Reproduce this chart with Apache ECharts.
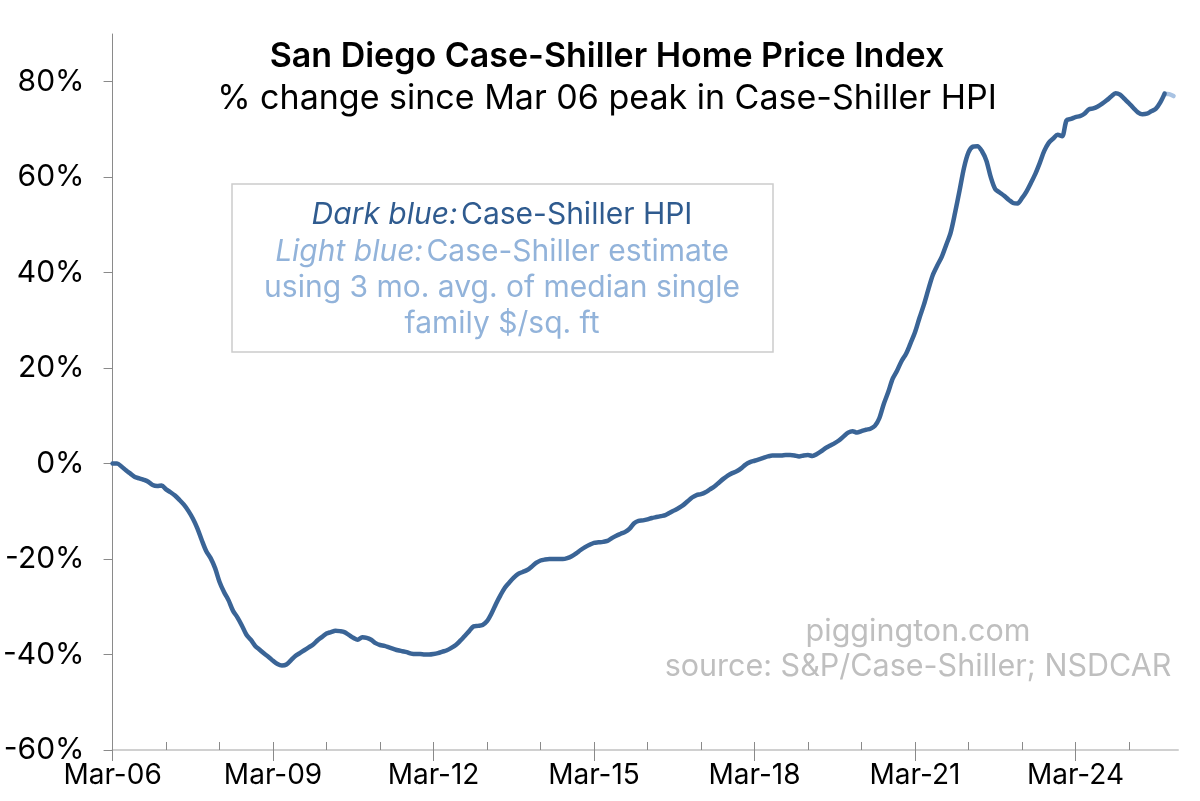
<!DOCTYPE html>
<html>
<head>
<meta charset="utf-8">
<script src="https://cdn.jsdelivr.net/npm/echarts@6/dist/echarts.min.js"></script>
<style>
  html, body { margin: 0; padding: 0; background: #fff; }
  #chart { width: 1200px; height: 801px; }
</style>
</head>
<body>
<div id="chart"></div>
<script>
// ---- data ----
const startYear = 2006;         // first month: Mar-06
const startMonth = 2;           // 0-based: March
const monthCount = 240;         // Mar-06 .. Feb-26

// Case-Shiller HPI, % change since Mar-06 peak, monthly from Mar-06
const hpiValues = [
  0.0, 0.0, -0.6, -1.4, -2.1, -2.8, -3.1, -3.4, -3.8, -4.5, -4.7, -4.6,
  -5.4, -6.0, -6.7, -7.6, -8.6, -9.9, -11.5, -13.5, -16.0, -18.3, -19.8, -21.9,
  -24.8, -26.9, -28.6, -30.8, -32.2, -33.9, -35.8, -36.9, -38.2, -39.0, -39.8, -40.5,
  -41.3, -42.0, -42.3, -42.1, -41.2, -40.3, -39.7, -39.1, -38.5, -37.9, -37.0, -36.3,
  -35.6, -35.3, -35.0, -35.1, -35.3, -35.9, -36.5, -36.9, -36.4, -36.5, -36.9, -37.6,
  -38.0, -38.2, -38.5, -38.8, -39.1, -39.3, -39.5, -39.8, -39.9, -39.9, -40.0, -40.0,
  -39.9, -39.7, -39.4, -39.1, -38.6, -38.0, -37.1, -36.1, -35.1, -34.1, -34.0, -33.8,
  -33.0, -31.4, -29.4, -27.6, -26.0, -24.9, -23.9, -23.1, -22.7, -22.3, -21.6, -20.8,
  -20.3, -20.1, -20.0, -20.0, -20.0, -20.0, -19.8, -19.4, -18.8, -18.1, -17.5, -17.0,
  -16.6, -16.5, -16.4, -16.2, -15.6, -15.1, -14.7, -14.3, -13.6, -12.5, -12.0, -11.9,
  -11.7, -11.4, -11.2, -11.0, -10.8, -10.3, -9.8, -9.3, -8.7, -7.9, -7.1, -6.6,
  -6.4, -6.0, -5.4, -4.8, -4.0, -3.2, -2.5, -2.0, -1.6, -1.0, -0.2, 0.3,
  0.6, 0.9, 1.2, 1.5, 1.7, 1.7, 1.7, 1.8, 1.8, 1.7, 1.5, 1.7,
  1.8, 1.6, 2.0, 2.6, 3.3, 3.8, 4.3, 4.9, 5.7, 6.5, 6.8, 6.5,
  6.8, 7.1, 7.3, 7.9, 9.5, 12.5, 15.0, 17.8, 19.5, 21.5, 23.0, 25.2,
  27.5, 30.5, 33.3, 36.5, 39.5, 41.5, 43.3, 45.8, 48.4, 52.6, 57.2, 62.0,
  65.2, 66.4, 66.5, 65.5, 63.5, 60.0, 57.5, 56.8, 56.1, 55.3, 54.6, 54.5,
  55.6, 57.0, 58.8, 60.7, 63.0, 65.5, 67.2, 68.1, 68.9, 68.6, 71.9, 72.2,
  72.6, 72.8, 73.3, 74.2, 74.4, 74.8, 75.4, 76.1, 76.9, 77.6, 77.3, 76.4,
  75.5, 74.5, 73.6, 73.2, 73.3, 73.8, 74.3, 75.6, 77.5
];

// Estimate from 3 mo. avg. of median single family $/sq. ft (starts at last HPI month)
const estimateStartIndex = 236;
const estimateValues = [77.5, 77.4, 77.0];

// axis settings
const yTickValues = [-60, -40, -20, 0, 20, 40, 60, 80];
const majorTickEvery = 36;  // every 3 years (labels)
const minorTickEvery = 12;  // every year

// ---- build categories ----
const monthNames = ['Jan','Feb','Mar','Apr','May','Jun','Jul','Aug','Sep','Oct','Nov','Dec'];
const categories = [];
for (let i = 0; i < monthCount; i++) {
  const t = startMonth + i;
  const y = startYear + Math.floor(t / 12);
  categories.push(monthNames[t % 12] + '-' + String(y % 100).padStart(2, '0'));
}
const hpiData = categories.map((c, i) => i < hpiValues.length ? hpiValues[i] : null);
const estData = categories.map((c, i) => {
  const k = i - estimateStartIndex;
  return (k >= 0 && k < estimateValues.length) ? estimateValues[k] : null;
});

const FONT = "Inter, 'Liberation Sans', Arial, sans-serif";
const DARK = '#3a6496';
const LIGHT = '#a9c3e3';

const chart = echarts.init(document.getElementById('chart'), null, { renderer: 'canvas' });
chart.setOption({
  backgroundColor: '#ffffff',
  animation: false,
  grid: { left: 111, right: 22, top: 34, bottom: 51, containLabel: false },
  xAxis: [
    {
      type: 'category',
      data: categories,
      boundaryGap: false,
      position: 'bottom',
      axisLine: { show: true, onZero: false, lineStyle: { color: '#d0d0d0', width: 2 } },
      axisTick: {
        show: true, inside: false, length: 11,
        interval: (i) => i % majorTickEvery === 0,
        lineStyle: { color: '#8a8a8a', width: 1 }
      },
      axisLabel: {
        show: true,
        interval: (i) => i % majorTickEvery === 0,
        color: '#000', fontFamily: FONT, fontSize: 28, margin: 12
      },
      splitLine: { show: false }
    },
    {
      type: 'category',
      data: categories,
      boundaryGap: false,
      position: 'bottom',
      axisLine: { show: false, onZero: false },
      axisTick: {
        show: true, inside: true, length: 8,
        interval: (i) => i % minorTickEvery === 0,
        lineStyle: { color: '#8a8a8a', width: 1 }
      },
      axisLabel: { show: false },
      splitLine: { show: false }
    }
  ],
  yAxis: {
    type: 'value',
    min: -60, max: 90,
    axisLine: { show: true, lineStyle: { color: '#8a8a8a', width: 1 } },
    axisTick: { show: true, length: 9, customValues: yTickValues, lineStyle: { color: '#8a8a8a' } },
    axisLabel: {
      customValues: yTickValues,
      formatter: (v) => v + '%',
      color: '#000', fontFamily: FONT, fontSize: 30, margin: 28
    },
    splitLine: { show: false }
  },
  series: [
    {
      name: 'Case-Shiller HPI',
      type: 'line',
      data: hpiData,
      showSymbol: false,
      symbol: 'none',
      smooth: 0.3,
      connectNulls: false,
      lineStyle: { color: DARK, width: 4.5, cap: 'round', join: 'round' },
      z: 3
    },
    {
      name: 'Case-Shiller estimate',
      type: 'line',
      data: estData,
      showSymbol: false,
      symbol: 'none',
      smooth: 0.3,
      lineStyle: { color: LIGHT, width: 4.5, cap: 'round', join: 'round' },
      z: 2
    }
  ],
  graphic: [
    {
      type: 'text', x: 607, y: 57,
      style: {
        text: 'San Diego Case-Shiller Home Price Index',
        fontFamily: FONT, fontSize: 34, fontWeight: 600, fill: '#000',
        align: 'center', verticalAlign: 'middle'
      }
    },
    {
      type: 'text', x: 607, y: 99,
      style: {
        text: '% change since Mar 06 peak in Case-Shiller HPI',
        fontFamily: FONT, fontSize: 34, fill: '#000',
        align: 'center', verticalAlign: 'middle'
      }
    },
    {
      type: 'rect',
      shape: { x: 232, y: 184, width: 541, height: 168 },
      style: { fill: '#fff', stroke: '#cccccc', lineWidth: 1.5 },
      z: 10
    },
    {
      type: 'text', x: 502, y: 215, z: 11,
      style: {
        text: '{i|Dark blue:} {n|Case-Shiller HPI}',
        align: 'center', verticalAlign: 'middle',
        rich: {
          i: { fontFamily: FONT, fontSize: 30, fontStyle: 'italic', fill: '#2f5b8f' },
          n: { fontFamily: FONT, fontSize: 30, fill: '#2f5b8f' }
        }
      }
    },
    {
      type: 'text', x: 502, y: 252, z: 11,
      style: {
        text: '{i|Light blue:} {n|Case-Shiller estimate}',
        align: 'center', verticalAlign: 'middle',
        rich: {
          i: { fontFamily: FONT, fontSize: 30, fontStyle: 'italic', fill: '#92b3da' },
          n: { fontFamily: FONT, fontSize: 30, fill: '#92b3da' }
        }
      }
    },
    {
      type: 'text', x: 502, y: 288, z: 11,
      style: {
        text: 'using 3 mo. avg. of median single',
        fontFamily: FONT, fontSize: 30, fill: '#92b3da',
        align: 'center', verticalAlign: 'middle'
      }
    },
    {
      type: 'text', x: 502, y: 324, z: 11,
      style: {
        text: 'family $/sq. ft',
        fontFamily: FONT, fontSize: 30, fill: '#92b3da',
        align: 'center', verticalAlign: 'middle'
      }
    },
    {
      type: 'text', x: 918, y: 632, z: 1,
      style: {
        text: 'piggington.com',
        fontFamily: FONT, fontSize: 30.5, fill: '#bfbfbf',
        align: 'center', verticalAlign: 'middle'
      }
    },
    {
      type: 'text', x: 918, y: 667, z: 1,
      style: {
        text: 'source: S&P/Case-Shiller; NSDCAR',
        fontFamily: FONT, fontSize: 30.5, fill: '#bfbfbf',
        align: 'center', verticalAlign: 'middle'
      }
    }
  ]
});
</script>
</body>
</html>
